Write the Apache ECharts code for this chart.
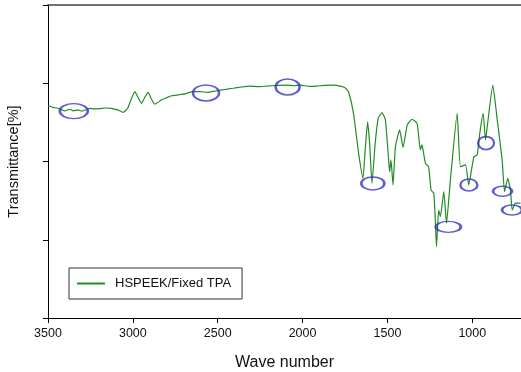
<!DOCTYPE html>
<html>
<head>
<meta charset="utf-8">
<script src="https://cdn.jsdelivr.net/npm/echarts@6/dist/echarts.min.js"></script>
<style>
html,body{margin:0;padding:0;background:#fff;}
#chart{width:521px;height:372px;}
</style>
</head>
<body>
<div id="chart"></div>
<script>
// Wave number (cm-1) and transmittance (arbitrary %, axis 0..100)
const waveNumbers = [3500,3470,3441,3419,3400,3372,3350,3325,3300,3272,3254,3230,3195,3160,3126,3089,3057,3030,3012,2988,2971,2949,2929,2910,2894,2870,2831,2800,2772,2730,2693,2646,2605,2560,2506,2460,2410,2360,2310,2260,2211,2150,2093,2050,2014,1960,1916,1870,1819,1778,1748,1729,1700,1670,1644,1631,1617,1605,1591,1572,1554,1532,1512,1493,1487,1479,1467,1453,1428,1408,1383,1355,1325,1306,1297,1290,1276,1257,1243,1227,1217,1211,1198,1188,1168,1152,1129,1089,1070,1040,1021,991,971,956,936,922,912,879,853,824,810,791,775,765,745,716];
const transmittance = [67.8,67.3,67.0,66.5,66.2,66.7,66.2,66.5,66.1,66.6,67.0,66.8,66.9,67.1,67.0,66.5,65.7,67.1,69.6,72.3,70.6,68.6,70.6,72.1,70.3,68.3,69.7,70.4,71.0,71.3,71.6,72.3,72.3,72.1,72.6,73.0,73.4,73.8,74.1,73.9,74.1,74.3,74.4,74.2,74.4,74.0,74.1,74.3,74.4,74.1,73.5,72.2,65.4,52.7,44.7,53.7,62.7,55.9,43.0,55.9,63.9,65.6,63.3,50.5,46.7,50.5,42.5,54.7,60.1,54.5,61.7,63.5,62.2,53.7,55.3,53.7,49.4,48.3,40.9,39.8,30.3,22.8,34.5,32.4,40.4,30.3,44.1,65.4,48.3,48.9,42.5,51.5,52.1,59.0,65.4,56.9,61.1,74.4,63.3,50.5,40.4,44.6,40.9,34.5,36.7,36.7];
// Circled band positions
const circleWave = [3348,2569,2088,1586,1141,1020,919,822,766];
const circleT = [66.1,71.9,73.8,43.0,29.1,42.5,55.9,40.5,34.5];
const xTickLabels = [3500,3000,2500,2000,1500,1000];
const yTicks = [0,25,50,75,100];
const seriesName = 'HSPEEK/Fixed TPA';

const ellipseSizes = [[28,15],[26,16],[24,16],[23,13],[25,11],[17,12],[16,13],[19,10],[20,10]];

const chart = echarts.init(document.getElementById('chart'));
const font = 'Liberation Sans, Arial, sans-serif';
const X_MIN = 713, X_MAX = 3500;

chart.setOption({
  animation: false,
  backgroundColor: '#fff',
  grid: {left: 48, right: 0, top: 5, bottom: 54, containLabel: false, outerBoundsMode: 'none'},
  legend: {
    data: [{name: seriesName, icon: 'rect'}],
    left: 69, top: 268,
    itemWidth: 28, itemHeight: 2,
    borderColor: '#333', borderWidth: 1,
    padding: [8, 11, 8, 8],
    textStyle: {fontFamily: font, fontSize: 13, color: '#111', padding: [0,0,0,5], lineHeight: 15}
  },
  xAxis: [{
    type: 'value', min: X_MIN, max: X_MAX, inverse: true,
    name: 'Wave number', nameLocation: 'middle', nameGap: 37,
    nameTextStyle: {fontFamily: font, fontSize: 16, color: '#111'},
    axisLine: {onZero: false, lineStyle: {color: '#000', width: 1}},
    axisTick: {show: true, inside: false, length: 5, customValues: xTickLabels, lineStyle: {color: '#000'}},
    axisLabel: {customValues: xTickLabels, formatter: v => String(v), fontFamily: font, fontSize: 12.5, color: '#111', margin: 9},
    splitLine: {show: false}
  }, {
    type: 'value', min: X_MIN, max: X_MAX, inverse: true, position: 'top',
    axisLine: {show: true, onZero: false, lineStyle: {color: '#444', width: 1.5}},
    axisTick: {show: false}, axisLabel: {show: false}, splitLine: {show: false}
  }],
  yAxis: {
    type: 'value', min: yTicks[0], max: yTicks[yTicks.length-1], interval: 25,
    name: 'Transmittance[%]', nameLocation: 'middle', nameGap: 27, nameRotate: 90,
    nameTextStyle: {fontFamily: font, fontSize: 14.5, color: '#111'},
    axisLine: {show: true, onZero: false, lineStyle: {color: '#000', width: 1}},
    axisTick: {show: true, inside: false, length: 5, lineStyle: {color: '#000'}},
    axisLabel: {show: false},
    splitLine: {show: false}
  },
  series: [{
    name: seriesName, type: 'line',
    data: waveNumbers.map((w, i) => [w, transmittance[i]]),
    showSymbol: false, symbol: 'none', smooth: 0.15,
    lineStyle: {color: '#228b22', width: 1.2},
    itemStyle: {color: '#228b22'}
  }, {
    name: 'circles', type: 'scatter',
    data: circleWave.map((w, i) => [w, circleT[i]]),
    symbol: 'circle',
    symbolSize: (v, p) => ellipseSizes[p.dataIndex],
    itemStyle: {color: 'rgba(0,0,0,0)', borderColor: '#3535c4', borderWidth: 2},
    z: 5, silent: true
  }]
});
</script>
</body>
</html>
